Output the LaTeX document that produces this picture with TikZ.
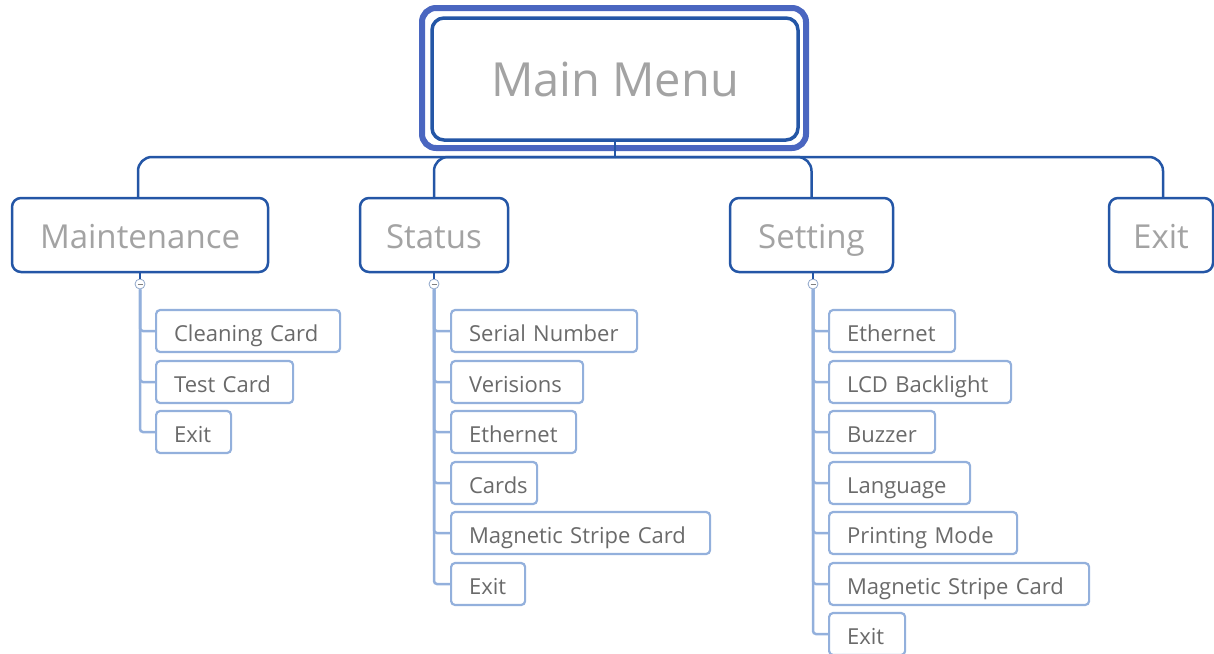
\documentclass[tikz,border=0pt]{standalone}
\usepackage{fontspec}
\setmainfont{Open Sans}
\definecolor{dblue}{HTML}{2456A6}
\definecolor{oblue}{HTML}{4A66C0}
\definecolor{lblue}{HTML}{93B0DC}
\definecolor{tgrey}{HTML}{A3A3A3}
\definecolor{cgrey}{HTML}{6A6A6A}
\begin{document}
\begin{tikzpicture}[x=1pt,y=-1pt,
  mainbox/.style={draw=dblue,line width=3.5pt,rounded corners=12pt,fill=white,minimum width=366pt,minimum height=122pt,inner sep=0pt,font=\fontsize{47}{50}\selectfont,text=tgrey},
  mainframe/.style={draw=oblue,line width=6pt,rounded corners=14pt,minimum width=384pt,minimum height=140pt,inner sep=0pt},
  topbox/.style={draw=dblue,line width=2.5pt,rounded corners=9pt,fill=white,minimum height=74pt,inner sep=0pt,text height=30pt,text depth=4pt,font=\fontsize{33}{36}\selectfont,text=tgrey},
  subbox/.style={draw=lblue,line width=2.2pt,rounded corners=4pt,fill=white,minimum height=42pt,inner xsep=18pt,inner ysep=0pt,text height=22pt,text depth=2pt,align=left,anchor=west,font=\fontsize{22}{24}\selectfont,text=cgrey,text width=#1},
  mainline/.style={draw=dblue,line width=2.5pt,rounded corners=14pt},
  subline/.style={draw=lblue,line width=2.5pt,rounded corners=3pt},
  toggle/.style={circle,draw=lblue!80!gray,line width=0.8pt,fill=white,minimum size=10pt,inner sep=0pt,
    path picture={\draw[gray,line width=0.8pt] ([xshift=-2.5pt]path picture bounding box.center) -- ([xshift=2.5pt]path picture bounding box.center);}}
]
\useasboundingbox (0,0) rectangle (1214,653);

% main menu
\node[mainframe] (mmf) at (614,78) {};
\node[mainbox] (mm) at (615,79) {Main Menu};
\coordinate (hub) at (615,157);

% level 1
\node[topbox,minimum width=256pt] (maint) at (140,235) {Maintenance};
\node[topbox,minimum width=148pt] (status) at (434,235) {Status};
\node[topbox,minimum width=163pt] (setting) at (811.5,235) {Setting};
\node[topbox,minimum width=104pt] (exit) at (1161,235) {Exit};

\draw[mainline] (mm.south) -- (hub);
\draw[mainline] (hub) -| ([xshift=-2pt]maint.north);
\draw[mainline] (hub) -| (status.north);
\draw[mainline] (hub) -| (setting.north);
\draw[mainline] (hub) -| ([xshift=2pt]exit.north);

% toggles
\node[toggle] (tm) at (140,284) {};
\node[toggle] (ts) at (434,284) {};
\node[toggle] (tt) at (813,284) {};
\draw[dblue,line width=2pt] (maint.south) -- (tm.north);
\draw[dblue,line width=2pt] (status.south) -- (ts.north);
\draw[dblue,line width=2pt] (813,272) -- (tt.north);

% maintenance children
\node[subbox=148pt] (m1) at (155,331) {Cleaning Card};
\node[subbox=101pt] (m2) at (155,382) {Test Card};
\node[subbox=39pt] (m3) at (155,432) {Exit};
\foreach \n in {m1,m2,m3} \draw[subline] (tm.south) |- (\n.west);

% status children
\node[subbox=150pt] (s1) at (450,331) {Serial Number};
\node[subbox=96pt] (s2) at (450,382) {Verisions};
\node[subbox=89pt] (s3) at (450,432) {Ethernet};
\node[subbox=50pt] (s4) at (450,483) {Cards};
\node[subbox=223pt] (s5) at (450,533) {Magnetic Stripe Card};
\node[subbox=38pt] (s6) at (450,584) {Exit};
\foreach \n in {s1,s2,s3,s4,s5,s6} \draw[subline] (ts.south) |- (\n.west);

% setting children
\node[subbox=90pt] (t1) at (828,331) {Ethernet};
\node[subbox=146pt] (t2) at (828,382) {LCD Backlight};
\node[subbox=70pt] (t3) at (828,432) {Buzzer};
\node[subbox=105pt] (t4) at (828,483) {Language};
\node[subbox=152pt] (t5) at (828,533) {Printing Mode};
\node[subbox=224pt] (t6) at (828,584) {Magnetic Stripe Card};
\node[subbox=40pt] (t7) at (828,634) {Exit};
\foreach \n in {t1,t2,t3,t4,t5,t6,t7} \draw[subline] (tt.south) |- (\n.west);
\end{tikzpicture}
\end{document}
